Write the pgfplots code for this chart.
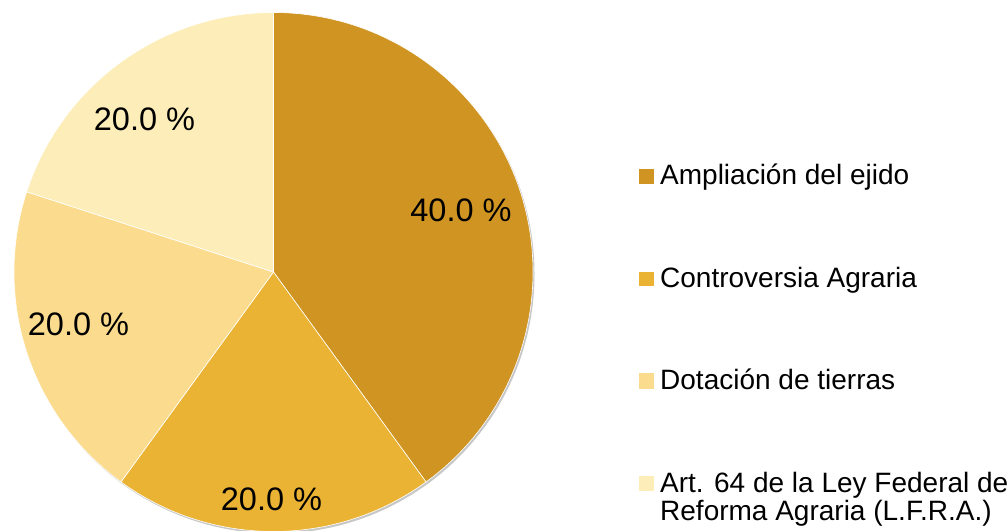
\documentclass[border=0pt]{standalone}
\usepackage{pgfplots}
\pgfplotsset{compat=1.18}
\usepackage{pgfplotstable}
\usepackage{fontspec}
\setmainfont{Liberation Sans}
\definecolor{cA}{HTML}{CF9421}
\definecolor{cB}{HTML}{EAB334}
\definecolor{cC}{HTML}{FBDC8E}
\definecolor{cD}{HTML}{FCEDB9}
% slice values (percent)
\def\vA{40}\def\vB{20}\def\vC{20}\def\vD{20}
\pgfmathsetmacro{\aA}{90}
\pgfmathsetmacro{\aB}{\aA-3.6*\vA}
\pgfmathsetmacro{\aC}{\aB-3.6*\vB}
\pgfmathsetmacro{\aD}{\aC-3.6*\vC}
\pgfmathsetmacro{\aE}{\aD-3.6*\vD}
\def\R{259.5pt}
\begin{document}
\begin{tikzpicture}
\begin{axis}[
  name=ax,
  width=1008pt, height=530pt, scale only axis,
  xmin=0, xmax=1008, ymin=0, ymax=530,
  hide axis, clip=true,
]
% shadow
\fill[black!22] (axis cs:275,256) circle[radius=\R];
\fill[cA, draw=white, line width=0.6pt] (axis cs:273.5,258) -- ++(\aA:\R) arc[start angle=\aA, end angle=\aB, radius=\R] -- cycle;
\fill[cB, draw=white, line width=0.6pt] (axis cs:273.5,258) -- ++(\aB:\R) arc[start angle=\aB, end angle=\aC, radius=\R] -- cycle;
\fill[cC, draw=white, line width=0.6pt] (axis cs:273.5,258) -- ++(\aC:\R) arc[start angle=\aC, end angle=\aD, radius=\R] -- cycle;
\fill[cD, draw=white, line width=0.6pt] (axis cs:273.5,258) -- ++(\aD:\R) arc[start angle=\aD, end angle=\aE, radius=\R] -- cycle;
% percentage labels
\begin{scope}[every node/.style={font=\fontsize{32.5}{39}\selectfont, inner sep=0pt, anchor=base}]
\node at (axis cs:461,308) {40.0 \%};
\node at (axis cs:271.5,20) {20.0 \%};
\node at (axis cs:78.5,194) {20.0 \%};
\node at (axis cs:144.5,399) {20.0 \%};
\end{scope}
% legend
\fill[cA] (axis cs:639,346) rectangle (axis cs:654,361);
\fill[cB] (axis cs:639,244) rectangle (axis cs:654,258);
\fill[cC] (axis cs:639,141) rectangle (axis cs:654,157);
\fill[cD] (axis cs:639,39) rectangle (axis cs:654,54);
\begin{scope}[every node/.style={font=\fontsize{28}{28}\selectfont, inner sep=0pt, anchor=base west}]
\node at (axis cs:660,345) {Ampliación del ejido};
\node at (axis cs:660,242) {Controversia Agraria};
\node at (axis cs:660,140) {Dotación de tierras};
\node at (axis cs:660,38) {Art. 64 de la Ley Federal de};
\node at (axis cs:660,10) {Reforma Agraria (L.F.R.A.)};
\end{scope}
\end{axis}
\pgfresetboundingbox
\path[use as bounding box] (ax.south west) rectangle (ax.north east);
\end{tikzpicture}
\end{document}
